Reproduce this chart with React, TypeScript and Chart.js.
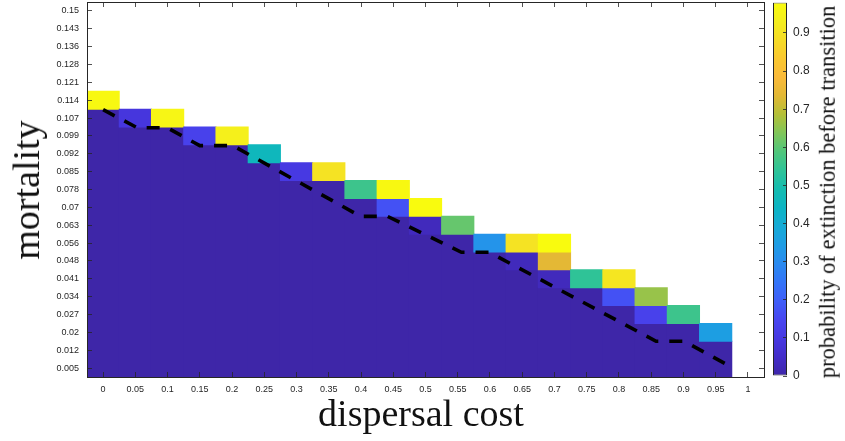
import React, { useEffect, useRef } from 'react';
import { Chart, registerables } from 'chart.js';

Chart.register(...registerables);

// ---------- data ----------
const costs = [0, 0.05, 0.1, 0.15, 0.2, 0.25, 0.3, 0.35, 0.4, 0.45, 0.5, 0.55, 0.6, 0.65, 0.7, 0.75, 0.8, 0.85, 0.9, 0.95, 1];
const costLabels = ['0', '0.05', '0.1', '0.15', '0.2', '0.25', '0.3', '0.35', '0.4', '0.45', '0.5', '0.55', '0.6', '0.65', '0.7', '0.75', '0.8', '0.85', '0.9', '0.95', '1'];
const mortality = [0.005, 0.01225, 0.0195, 0.02675, 0.034, 0.04125, 0.0485, 0.05575, 0.063, 0.07025, 0.0775, 0.08475, 0.092, 0.09925, 0.1065, 0.11375, 0.121, 0.12825, 0.1355, 0.14275, 0.15];
const mortalityLabels = ['0.005', '0.012', '0.02', '0.027', '0.034', '0.041', '0.048', '0.056', '0.063', '0.07', '0.078', '0.085', '0.092', '0.099', '0.107', '0.114', '0.121', '0.128', '0.136', '0.143', '0.15'];

// number of zero-probability cells at the bottom of each cost column (last column is empty)
const zeroRows = [15, 14, 14, 13, 13, 12, 11, 11, 10, 9, 8, 8, 7, 6, 5, 5, 4, 3, 3, 2];

// non-zero cells: column index, row index, probability
const cellCol = [0, 1, 2, 3, 4, 5, 6, 7, 8, 9, 9, 10, 10, 11, 12, 13, 13, 14, 14, 14, 15, 16, 16, 17, 17, 18, 19];
const cellRow = [15, 14, 14, 13, 13, 12, 11, 11, 10, 9, 10, 8, 9, 8, 7, 6, 7, 5, 6, 7, 5, 4, 5, 3, 4, 3, 2];
const cellProb = [0.97, 0.09, 0.96, 0.13, 0.94, 0.46, 0.1, 0.9, 0.56, 0.17, 0.97, 0.03, 0.98, 0.61, 0.32, 0.03, 0.9, 0.03, 0.74, 0.98, 0.54, 0.17, 0.91, 0.13, 0.66, 0.56, 0.35];

// dashed boundary curve
const boundaryCost = [0, 0.0526, 0.099, 0.15, 0.2012, 0.3994, 0.441, 0.5557, 0.599, 0.8576, 0.901, 0.972];
const boundaryMortality = [0.1099, 0.1026, 0.1026, 0.0953, 0.0953, 0.0666, 0.0666, 0.052, 0.052, 0.0159, 0.0159, 0.0058];

const colorbarMax = 0.98;
const colorbarTicks = [0, 0.1, 0.2, 0.3, 0.4, 0.5, 0.6, 0.7, 0.8, 0.9];
const colorbarLabels = ['0', '0.1', '0.2', '0.3', '0.4', '0.5', '0.6', '0.7', '0.8', '0.9'];

// ---------- style ----------
const AX = '#262626';
const SANS = '"Liberation Sans", Arial, sans-serif';
const SERIF = '"Liberation Serif", "Times New Roman", serif';

const PARULA: number[][] = [
  [62, 38, 168], [67, 45, 200], [71, 56, 225], [72, 70, 240], [64, 94, 248],
  [52, 116, 248], [42, 138, 240], [30, 156, 228], [22, 170, 214], [12, 180, 196],
  [20, 188, 176], [46, 195, 152], [80, 198, 124], [128, 198, 90], [180, 192, 56],
  [226, 184, 52], [250, 186, 58], [250, 200, 48], [246, 220, 38], [244, 238, 30],
  [249, 251, 14],
];

function rgb(c: number[]) {
  return `rgb(${Math.round(c[0])},${Math.round(c[1])},${Math.round(c[2])})`;
}

function parula(t: number): string {
  const u = Math.min(1, Math.max(0, t)) * (PARULA.length - 1);
  const i = Math.min(PARULA.length - 2, Math.floor(u));
  const f = u - i;
  const a = PARULA[i];
  const b = PARULA[i + 1];
  return rgb([a[0] + (b[0] - a[0]) * f, a[1] + (b[1] - a[1]) * f, a[2] + (b[2] - a[2]) * f]);
}

function fixSize(w: number | null, h: number | null) {
  return (s: any) => {
    if (w !== null) s.width = w;
    if (h !== null) s.height = h;
    s.paddingTop = 0;
    s.paddingBottom = 0;
    s.paddingLeft = 0;
    s.paddingRight = 0;
  };
}

export default function App() {
  const mainRef = useRef<HTMLCanvasElement>(null);
  const barRef = useRef<HTMLCanvasElement>(null);

  useEffect(() => {
    const halfC = (costs[1] - costs[0]) / 2;
    const halfM = (mortality[1] - mortality[0]) / 2;

    const baseData = zeroRows.map((n, c) => ({ x: costs[c], y: [mortality[0] - halfM, mortality[n - 1] + halfM] }));
    const cellData = cellCol.map((c, i) => ({
      x: costs[c],
      y: [mortality[cellRow[i]] - halfM, mortality[cellRow[i]] + halfM],
    }));
    const lineData = boundaryCost.map((x, i) => ({ x, y: boundaryMortality[i] }));

    const grid = { drawOnChartArea: false, drawTicks: true, tickLength: -5, color: AX, lineWidth: 0.8, z: 1, offset: false };
    const border = { display: true, color: AX, width: 1, z: 1 };
    const xTicks = (s: any) => { s.ticks = costs.map((v) => ({ value: v })); };
    const yTicks = (s: any) => { s.ticks = mortality.map((v) => ({ value: v })); };

    const main = new Chart(mainRef.current!, {
      type: 'bar',
      data: {
        datasets: [
          {
            type: 'line',
            data: lineData,
            xAxisID: 'x',
            yAxisID: 'y',
            borderColor: '#000',
            borderWidth: 3.6,
            borderDash: [13, 11],
            borderCapStyle: 'butt',
            pointRadius: 0,
            fill: false,
            tension: 0,
            order: 0,
          } as any,
          {
            type: 'bar',
            data: cellData as any,
            xAxisID: 'x',
            yAxisID: 'y',
            backgroundColor: cellProb.map((p) => parula(p / colorbarMax)),
            borderWidth: 0,
            grouped: false,
            barPercentage: 1,
            categoryPercentage: 1,
            inflateAmount: 0.5,
            order: 1,
          } as any,
          {
            type: 'bar',
            data: baseData as any,
            xAxisID: 'x',
            yAxisID: 'y',
            backgroundColor: parula(0),
            borderWidth: 0,
            grouped: false,
            barPercentage: 1,
            categoryPercentage: 1,
            inflateAmount: 0.5,
            order: 2,
          } as any,
        ],
      },
      options: {
        animation: false,
        responsive: false,
        events: [],
        layout: { padding: { left: 0, right: 81, top: 2, bottom: 0 } },
        plugins: { legend: { display: false }, tooltip: { enabled: false } },
        scales: {
          x: {
            type: 'linear',
            position: 'bottom',
            offset: false,
            min: costs[0] - halfC,
            max: costs[costs.length - 1] + halfC,
            afterBuildTicks: xTicks,
            afterFit: fixSize(null, 64),
            ticks: {
              autoSkip: false,
              maxRotation: 0,
              padding: 12,
              color: AX,
              font: { family: SANS, size: 9 },
              callback: (_v: any, i: number) => costLabels[i],
            },
            grid,
            border,
          },
          x2: {
            type: 'linear',
            position: 'top',
            offset: false,
            min: costs[0] - halfC,
            max: costs[costs.length - 1] + halfC,
            afterBuildTicks: xTicks,
            afterFit: fixSize(null, 0),
            ticks: { display: false },
            grid,
            border,
          },
          y: {
            type: 'linear',
            position: 'left',
            offset: false,
            min: mortality[0] - halfM,
            max: mortality[mortality.length - 1] + halfM,
            afterBuildTicks: yTicks,
            afterFit: fixSize(87, null),
            ticks: {
              autoSkip: false,
              padding: 13,
              color: AX,
              font: { family: SANS, size: 9 },
              callback: (_v: any, i: number) => mortalityLabels[i],
            },
            grid,
            border,
          },
          y2: {
            type: 'linear',
            position: 'right',
            offset: false,
            min: mortality[0] - halfM,
            max: mortality[mortality.length - 1] + halfM,
            afterBuildTicks: yTicks,
            afterFit: fixSize(0, null),
            ticks: { display: false },
            grid,
            border,
          },
        },
      } as any,
    });

    const cb = new Chart(barRef.current!, {
      type: 'bar',
      data: {
        labels: ['p'],
        datasets: [
          {
            data: [[0, colorbarMax]] as any,
            backgroundColor: (ctx: any) => {
              const chart = ctx.chart;
              const area = chart.chartArea;
              if (!area) return parula(0);
              const g = chart.ctx.createLinearGradient(0, area.bottom, 0, area.top);
              PARULA.forEach((c, i) => g.addColorStop(i / (PARULA.length - 1), rgb(c)));
              return g;
            },
            borderColor: AX,
            borderWidth: 1,
            borderSkipped: false,
            barPercentage: 1,
            categoryPercentage: 1,
            inflateAmount: 0,
          } as any,
        ],
      },
      options: {
        animation: false,
        responsive: false,
        events: [],
        layout: { padding: { left: 8, right: 0, top: 2.5, bottom: 65 } },
        plugins: { legend: { display: false }, tooltip: { enabled: false } },
        scales: {
          x: { type: 'category', display: false },
          y: {
            type: 'linear',
            position: 'right',
            min: 0,
            max: colorbarMax,
            afterBuildTicks: (s: any) => { s.ticks = colorbarTicks.map((v) => ({ value: v })); },
            afterFit: fixSize(58, null),
            ticks: {
              padding: 10,
              color: AX,
              font: { family: SANS, size: 12 },
              callback: (_v: any, i: number) => colorbarLabels[i],
            },
            grid: { drawOnChartArea: false, drawTicks: true, tickLength: -4, color: AX, lineWidth: 0.8, z: 1 },
            border: { display: false },
          },
        },
      } as any,
    });

    return () => {
      main.destroy();
      cb.destroy();
    };
  }, []);

  const title = (cx: number, cy: number, rot: number, size: number): React.CSSProperties => ({
    position: 'absolute',
    left: cx,
    top: cy,
    transform: `translate(-50%, -50%) rotate(${rot}deg)`,
    fontFamily: SERIF,
    fontSize: size,
    lineHeight: 1,
    whiteSpace: 'nowrap',
    color: '#111',
  });

  return (
    <div style={{ position: 'absolute', left: 0, top: 0, width: 845, height: 441, background: '#fff', overflow: 'hidden' }}>
      <canvas ref={mainRef} width={845} height={441} style={{ position: 'absolute', left: 0, top: 0, width: 845, height: 441 }} />
      <canvas ref={barRef} width={80} height={441} style={{ position: 'absolute', left: 765, top: 0, width: 80, height: 441 }} />
      <div style={title(421, 413, 0, 38)}>dispersal cost</div>
      <div style={title(26, 190, -90, 38)}>mortality</div>
      <div style={title(828, 192, -90, 22.5)}>probability of extinction before transition</div>
    </div>
  );
}
